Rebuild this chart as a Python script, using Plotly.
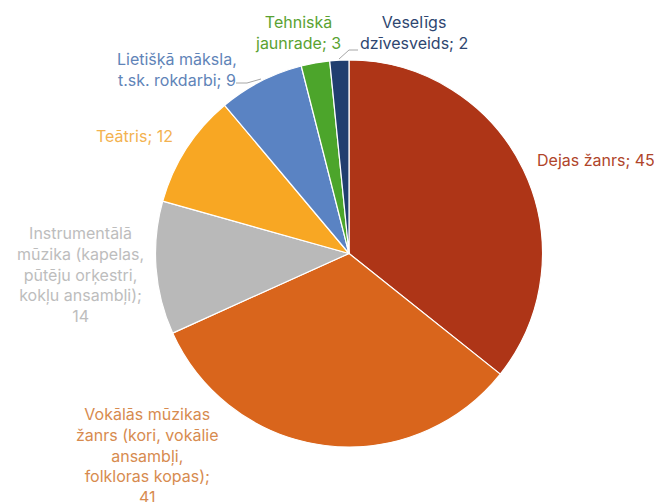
import plotly.graph_objects as go

# Page body has an 8px margin: the figure starts at (8, 8) in the window
OFF = 8
W, H = 654, 494

categories = [
    "Dejas žanrs",
    "Vokālās mūzikas žanrs (kori, vokālie ansambļi, folkloras kopas)",
    "Instrumentālā mūzika (kapelas, pūtēju orķestri, kokļu ansambļi)",
    "Teātris",
    "Lietišķā māksla, t.sk. rokdarbi",
    "Tehniskā jaunrade",
    "Veselīgs dzīvesveids",
]
values = [45, 41, 14, 12, 9, 3, 2]
label_lines = [
    ["Dejas žanrs; {v}"],
    ["Vokālās mūzikas", "žanrs (kori, vokālie", "ansambļi,", "folkloras kopas);", "{v}"],
    ["Instrumentālā", "mūzika (kapelas,", "pūtēju orķestri,", "kokļu ansambļi);", "{v}"],
    ["Teātris; {v}"],
    ["Lietišķā māksla,", "t.sk. rokdarbi; {v}"],
    ["Tehniskā", "jaunrade; {v}"],
    ["Veselīgs", "dzīvesveids; {v}"],
]
slice_colors = ["#AE3517", "#D9651C", "#B9B9B9", "#F8A723", "#5A83C3", "#4CA52B", "#213E6F"]
text_colors = ["#B0452A", "#D78B4F", "#BDBDBD", "#F3B24F", "#5F84B8", "#5AA231", "#2E4670"]
# label block centers in window pixels (x, y from top)
label_pos = [(596, 160), (147, 455), (80, 274), (134, 136), (177, 69), (298, 33), (414, 33)]

cx, cy, r = 349, 253.5, 193.5

def px(x):
    return (x - OFF) / W

def py(y):
    return 1 - (y - OFF) / H

fig = go.Figure(go.Pie(
    labels=categories,
    values=values,
    sort=False,
    direction="clockwise",
    rotation=0,
    marker=dict(colors=slice_colors, line=dict(color="white", width=1.2)),
    textinfo="none",
    hoverinfo="label+value",
    showlegend=False,
    domain=dict(x=[px(cx - r), px(cx + r)], y=[py(cy + r), py(cy - r)]),
))

annotations = []
for lines, v, col, (x, y) in zip(label_lines, values, text_colors, label_pos):
    txt = "<br>".join(l.format(v=v) for l in lines)
    annotations.append(dict(
        text=txt, x=px(x), y=py(y), xref="paper", yref="paper",
        xanchor="center", yanchor="middle", showarrow=False, align="center",
        font=dict(family="Inter, Liberation Sans, Arial", size=16, color=col),
    ))

shapes = [
    dict(type="path", xref="paper", yref="paper",
         path=f"M {px(236)} {py(83)} L {px(247)} {py(83)} L {px(261)} {py(79)}",
         line=dict(color="#A6A6A6", width=1)),
    dict(type="path", xref="paper", yref="paper",
         path=f"M {px(339)} {py(59)} L {px(349)} {py(50)} L {px(358)} {py(50)}",
         line=dict(color="#A6A6A6", width=1)),
]

fig.update_layout(
    width=W, height=H,
    margin=dict(l=0, r=0, t=0, b=0),
    paper_bgcolor="white", plot_bgcolor="white",
    annotations=annotations, shapes=shapes,
)

fig.write_html("out.html")
